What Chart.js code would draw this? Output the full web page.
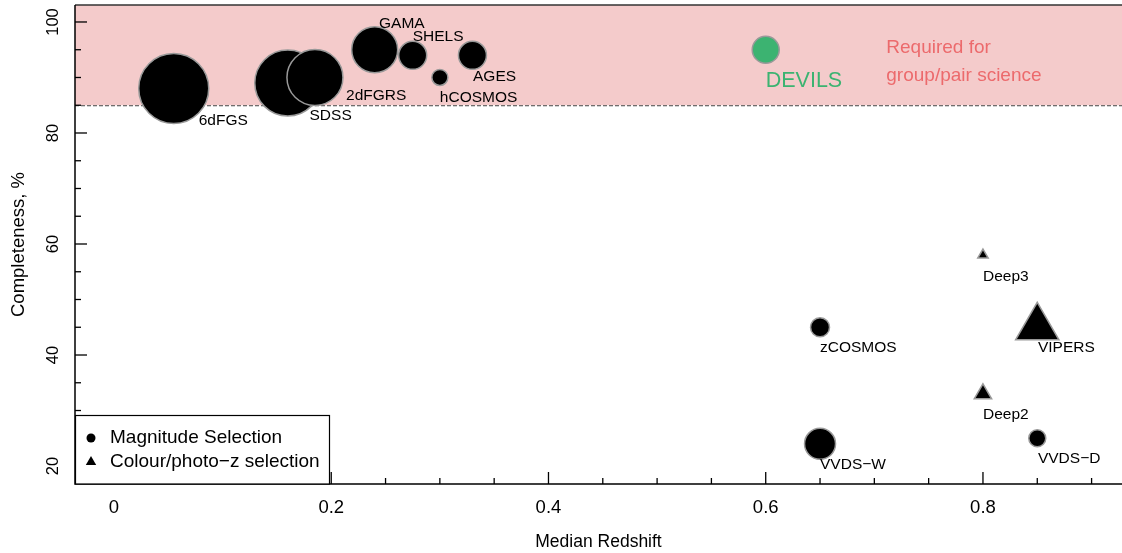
<!DOCTYPE html>
<html><head><meta charset="utf-8">
<script src="https://cdn.jsdelivr.net/npm/chart.js@4.4.0/dist/chart.umd.min.js"></script>
<style>html,body{margin:0;padding:0;background:#fff;overflow:hidden;}</style>
</head><body>
<canvas id="c" width="1122" height="553"></canvas>
<script>
// ---- data ----
const magNames = ['6dFGS','SDSS','2dFGRS','GAMA','SHELS','hCOSMOS','AGES','zCOSMOS','VVDS\u2212W','VVDS\u2212D'];
const magZ     = [0.055, 0.16, 0.185, 0.24, 0.275, 0.30, 0.33, 0.65, 0.65, 0.85];
const magCompl = [88, 89, 90, 95, 94, 90, 94, 45, 24, 25];
const magSize  = [35, 33, 28, 23, 14, 8, 14, 9.5, 15.5, 8.5];
const magLabelZ = [0.078, 0.180, 0.2136, 0.244, 0.275, 0.300, 0.3305, 0.65, 0.65, 0.8506];
const magLabelC = [82.3, 83.2, 86.7, 99.7, 97.3, 86.3, 90.1, 41.3, 20.2, 21.3];

const colNames = ['Deep3','VIPERS','Deep2'];
const colZ     = [0.80, 0.85, 0.80];
const colCompl = [58, 45, 33];
const colSize  = [6, 25, 10];
const colLabelZ = [0.80, 0.8506, 0.80];
const colLabelC = [54.05, 41.3, 29.2];

const devilsNames = ['DEVILS'];
const devilsZ = [0.60];
const devilsCompl = [95];
const devilsSize = [13.5];
const devilsLabelZ = [0.60];
const devilsLabelC = [89.4];

const requiredLevel = 85;
const requiredText = ['Required for', 'group/pair science'];
const requiredTextZ = [0.711, 0.711];
const requiredTextC = [95.3, 90.3];

const xTickValues = [0,0.05,0.1,0.15,0.2,0.25,0.3,0.35,0.4,0.45,0.5,0.55,0.6,0.65,0.7,0.75,0.8,0.85,0.9];
const xTickLabels = ['0','0.2','0.4','0.6','0.8'];
const yTickValues = [20,25,30,35,40,45,50,55,60,65,70,75,80,85,90,95,100];
const yTickLabels = {20:'20', 40:'40', 60:'60', 80:'80', 100:'100'};
const legendLabels = ['Magnitude Selection', 'Colour/photo\u2212z selection'];

const FONT = "'Liberation Sans', Arial, Helvetica, sans-serif";

function pts(xs, ys){ return xs.map((x,i)=>({x:x, y:ys[i]})); }

const overlay = {
  id:'overlay',
  beforeDatasetsDraw(chart){
    const {ctx, chartArea:a, scales:{x,y}} = chart;
    const yr = y.getPixelForValue(requiredLevel);
    ctx.save();
    ctx.fillStyle = '#f4cbcb';
    ctx.fillRect(a.left, a.top, a.right - a.left, yr - a.top);
    ctx.strokeStyle = '#444';
    ctx.lineWidth = 1;
    ctx.setLineDash([4,2]);
    ctx.beginPath(); ctx.moveTo(a.left, yr+0.5); ctx.lineTo(a.right, yr+0.5); ctx.stroke();
    ctx.setLineDash([]);
    ctx.strokeStyle = '#333';
    ctx.lineWidth = 1.5;
    ctx.beginPath(); ctx.moveTo(a.left, a.top); ctx.lineTo(a.right, a.top); ctx.stroke();
    ctx.restore();
  },
  afterDatasetsDraw(chart){
    const {ctx, chartArea:a, scales:{x,y}} = chart;
    ctx.save();
    // axis lines
    ctx.strokeStyle = '#000';
    ctx.lineWidth = 1.5;
    ctx.beginPath();
    ctx.moveTo(a.left, a.top); ctx.lineTo(a.left, a.bottom); ctx.lineTo(a.right, a.bottom);
    ctx.stroke();
    ctx.lineWidth = 1.3;
    // x ticks (inward)
    x.ticks.forEach(t=>{
      const px = x.getPixelForValue(t.value);
      const major = Math.round(t.value*100) % 20 === 0;
      const len = major ? 12 : 6;
      ctx.beginPath(); ctx.moveTo(px, a.bottom); ctx.lineTo(px, a.bottom - len); ctx.stroke();
    });
    // y ticks (inward) + labels
    y.ticks.forEach(t=>{
      const py = y.getPixelForValue(t.value);
      const v = Math.round(t.value);
      const major = v % 20 === 0;
      const len = major ? 12 : 6;
      ctx.beginPath(); ctx.moveTo(a.left, py); ctx.lineTo(a.left + len, py); ctx.stroke();
      if (major && yTickLabels[v]) {
        ctx.save();
        ctx.translate(a.left - 22, py);
        ctx.rotate(-Math.PI/2);
        ctx.fillStyle = '#000';
        ctx.font = '16.5px ' + FONT;
        ctx.textAlign = 'center';
        ctx.textBaseline = 'middle';
        ctx.fillText(yTickLabels[v], 0, 0);
        ctx.restore();
      }
    });
    // point labels
    ctx.textAlign = 'left';
    ctx.textBaseline = 'middle';
    ctx.fillStyle = '#000';
    ctx.font = '15.5px ' + FONT;
    magNames.forEach((n,i)=> ctx.fillText(n, x.getPixelForValue(magLabelZ[i]), y.getPixelForValue(magLabelC[i])));
    colNames.forEach((n,i)=> ctx.fillText(n, x.getPixelForValue(colLabelZ[i]), y.getPixelForValue(colLabelC[i])));
    ctx.fillStyle = '#3cb371';
    ctx.font = '21.5px ' + FONT;
    devilsNames.forEach((n,i)=> ctx.fillText(n, x.getPixelForValue(devilsLabelZ[i]), y.getPixelForValue(devilsLabelC[i])));
    ctx.fillStyle = '#ec6a6c';
    ctx.font = '19px ' + FONT;
    requiredText.forEach((s,i)=> ctx.fillText(s, x.getPixelForValue(requiredTextZ[i]), y.getPixelForValue(requiredTextC[i])));
    // legend box
    const lw = 254, lh = 69;
    const lx = a.left, ly = a.bottom - lh;
    ctx.fillStyle = '#fff';
    ctx.fillRect(lx, ly, lw, lh);
    ctx.strokeStyle = '#000';
    ctx.lineWidth = 1.2;
    ctx.strokeRect(lx + 0.5, ly + 0.5, lw, lh - 0.5);
    ctx.fillStyle = '#000';
    ctx.beginPath(); ctx.arc(lx + 16, ly + 23, 4.5, 0, Math.PI*2); ctx.fill();
    const tx = lx + 16, ty = ly + 47, r = 6;
    ctx.beginPath();
    ctx.moveTo(tx, ty - r);
    ctx.lineTo(tx + r*Math.sin(2*Math.PI/3), ty - r*Math.cos(2*Math.PI/3));
    ctx.lineTo(tx + r*Math.sin(4*Math.PI/3), ty - r*Math.cos(4*Math.PI/3));
    ctx.closePath(); ctx.fill();
    ctx.font = '19px ' + FONT;
    ctx.fillText(legendLabels[0], lx + 35, ly + 23);
    ctx.fillText(legendLabels[1], lx + 35, ly + 47);
    ctx.restore();
  }
};

const common = {borderColor:'#999', borderWidth:1.5, clip:false};

new Chart(document.getElementById('c'), {
  type:'scatter',
  data:{datasets:[
    Object.assign({label:legendLabels[0], data:pts(magZ, magCompl), pointStyle:'circle',
      pointRadius:magSize, pointHoverRadius:magSize, backgroundColor:'#000'}, common),
    Object.assign({label:legendLabels[1], data:pts(colZ, colCompl), pointStyle:'triangle',
      pointRadius:colSize, pointHoverRadius:colSize, backgroundColor:'#000'}, common),
    Object.assign({label:'DEVILS', data:pts(devilsZ, devilsCompl), pointStyle:'circle',
      pointRadius:devilsSize, pointHoverRadius:devilsSize, backgroundColor:'#3cb371'}, common)
  ]},
  options:{
    responsive:false, animation:false, devicePixelRatio:1, events:[],
    layout:{autoPadding:false, padding:{top:5, left:0, right:0, bottom:0}},
    plugins:{legend:{display:false}, tooltip:{enabled:false}},
    scales:{
      x:{type:'linear', min:-0.0359, max:0.928, bounds:'data',
        grid:{display:false}, border:{display:false},
        afterBuildTicks:(s)=>{ s.ticks = xTickValues.map(v=>({value:v})); },
        ticks:{autoSkip:false, maxRotation:0, minRotation:0,
          color:'#000', padding:5, font:{family:FONT, size:18.5},
          callback:(v)=>{ const k = Math.round(v*100); return (k % 20 === 0 && k >= 0) ? xTickLabels[k/20] : ''; }},
        title:{display:true, text:'Median Redshift', color:'#000', font:{family:FONT, size:17.5}, padding:{top:0, bottom:0}},
        afterFit:(s)=>{ s.height = 69; }
      },
      y:{type:'linear', min:16.76, max:103.06, bounds:'data',
        grid:{display:false}, border:{display:false},
        afterBuildTicks:(s)=>{ s.ticks = yTickValues.map(v=>({value:v})); },
        ticks:{display:false},
        title:{display:true, text:'Completeness, %', color:'#000', font:{family:FONT, size:18.5}, padding:{top:8, bottom:8}},
        afterFit:(s)=>{ s.width = 75; }
      }
    }
  },
  plugins:[overlay]
});
</script>
</body></html>
